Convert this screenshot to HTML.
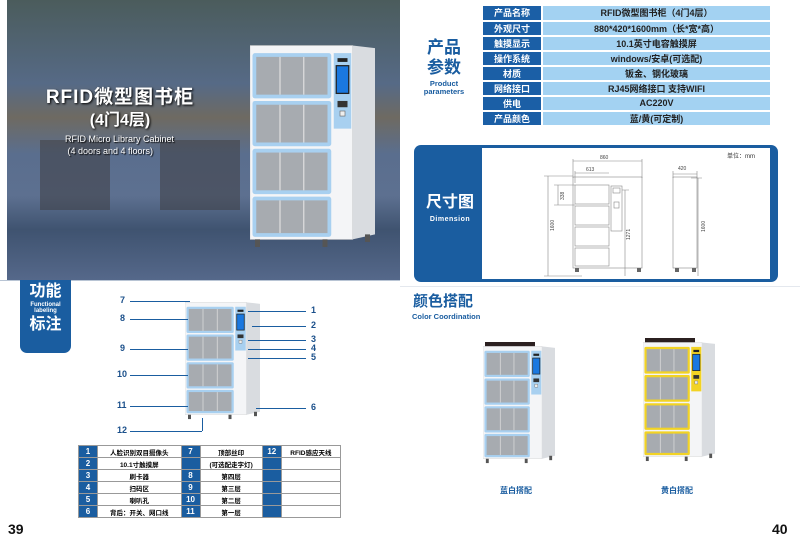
<!DOCTYPE html>
<html><head><meta charset="utf-8"><style>
*{margin:0;padding:0;box-sizing:border-box}
body{width:800px;height:528px;overflow:hidden;background:#fff;position:relative;font-family:"Liberation Sans","Noto Sans CJK SC",sans-serif}
.a{position:absolute}
.blue{color:#1a5da0}
table{border-collapse:collapse}
#pt td{height:14.7px;font-size:9px;text-align:center;border-bottom:2px solid #fff;padding:0}
#pt td.l{background:#1b5fa6;color:#fff;width:59px;font-weight:bold;border-right:2px solid #fff}
#pt td.v{background:#a3d2f2;color:#222;font-weight:bold}
#ft td{height:12px;font-size:6.5px;text-align:center;border:1px solid #999;padding:0;font-weight:bold}
#ft td.b{background:#1a5da0;color:#fff;font-size:8px;width:19px}
.num{position:absolute;font-size:9px;font-weight:bold;color:#1a4f8a}
.ln{position:absolute;height:1px;background:#1a5da0}
</style></head><body>
<svg width="0" height="0" style="position:absolute">
<defs>
<symbol id="cab" viewBox="0 0 100 170">
<rect x="0" y="6" width="82" height="154" fill="#f4f5f7" stroke="#ccc" stroke-width=".5"/>
<polygon points="82,6 100,8 100,156 82,160" fill="#d9dce0"/>
<g fill="currentColor">
<rect x="2" y="12" width="63" height="36" rx="2"/><rect x="2" y="50" width="63" height="36" rx="2"/>
<rect x="2" y="88" width="63" height="36" rx="2"/><rect x="2" y="126" width="63" height="32" rx="2"/>
<rect x="67" y="12" width="14" height="60"/></g>
<g fill="#a7abb0">
<rect x="5" y="15" width="57" height="30"/><rect x="5" y="53" width="57" height="30"/>
<rect x="5" y="91" width="57" height="30"/><rect x="5" y="129" width="57" height="26"/></g>
<g stroke="#ddd" stroke-width="1"><path d="M24 15V45M43 15V45M24 53V83M43 53V83M24 91V121M43 91V121M24 129V155M43 129V155"/></g>
<rect x="69" y="22" width="10" height="22" fill="#1a78e0" stroke="#222"/>
<rect x="70" y="16" width="8" height="3" fill="#222"/>
<rect x="70" y="50" width="8" height="5" fill="#333"/>
<rect x="72" y="58" width="4" height="4" fill="#eee" stroke="#666" stroke-width=".5"/>
<g fill="#555"><rect x="4" y="160" width="4" height="6"/><rect x="58" y="160" width="4" height="6"/><rect x="92" y="156" width="4" height="6"/></g>
</symbol>
</defs></svg>

<!-- photo -->
<div class="a" style="left:7px;top:0;width:393px;height:280px;background:linear-gradient(180deg,#4b5c5c 0%,#566a86 30%,#6e6a62 42%,#5a6e8e 55%,#5d7090 70%,#3f5370 82%,#55688a 100%)"></div>
<div class="a" style="left:40px;top:140px;width:70px;height:70px;background:#3b3a3c;opacity:.5"></div>
<div class="a" style="left:160px;top:140px;width:80px;height:70px;background:#3b3a3c;opacity:.5"></div>
<div class="a" style="left:20px;top:82px;width:200px;text-align:center;color:#fff;font-weight:bold;font-size:19px;letter-spacing:1px;text-shadow:1px 1px 2px #000">RFID微型图书柜</div>
<div class="a" style="left:20px;top:106px;width:200px;text-align:center;color:#fff;font-weight:bold;font-size:16px;text-shadow:1px 1px 2px #000">(4门4层)</div>
<div class="a" style="left:20px;top:133px;width:240px;text-align:left;padding-left:45px;color:#fff;font-size:9px;line-height:12px;text-shadow:1px 1px 1px #000">RFID Micro Library Cabinet<br>&nbsp;(4 doors and 4 floors)</div>
<svg class="a" style="left:250px;top:38px;color:#a8d0f0" width="125" height="214" viewBox="0 0 100 170" preserveAspectRatio="none"><use href="#cab"/></svg>

<!-- params -->
<div class="a blue" style="left:424px;top:38px;font-size:17px;font-weight:bold;line-height:20px;text-align:center;width:40px">产品<br>参数</div>
<div class="a blue" style="left:416px;top:80px;font-size:7.5px;font-weight:bold;line-height:8px;text-align:center;width:56px">Product<br>parameters</div>
<table id="pt" class="a" style="left:483px;top:6px;width:287px">
<tr><td class="l">产品名称</td><td class="v">RFID微型图书柜（4门4层）</td></tr>
<tr><td class="l">外观尺寸</td><td class="v">880*420*1600mm（长*宽*高）</td></tr>
<tr><td class="l">触摸显示</td><td class="v">10.1英寸电容触摸屏</td></tr>
<tr><td class="l">操作系统</td><td class="v">windows/安卓(可选配)</td></tr>
<tr><td class="l">材质</td><td class="v">钣金、钢化玻璃</td></tr>
<tr><td class="l">网络接口</td><td class="v">RJ45网络接口  支持WIFI</td></tr>
<tr><td class="l">供电</td><td class="v">AC220V</td></tr>
<tr><td class="l">产品颜色</td><td class="v">蓝/黄(可定制)</td></tr>
</table>

<!-- dimension -->
<div class="a" style="left:414px;top:145px;width:364px;height:137px;background:#1a5da0;border-radius:7px"></div>
<div class="a" style="left:482px;top:148px;width:288px;height:131px;background:#fff"></div>
<div class="a" style="left:418px;top:193px;width:64px;text-align:center;color:#fff;font-weight:bold;font-size:16px;line-height:20px">尺寸图</div>
<div class="a" style="left:418px;top:216px;width:64px;text-align:center;color:#fff;font-weight:bold;font-size:7px;letter-spacing:.5px">Dimension</div>
<div class="a" style="left:727px;top:151px;font-size:6px;color:#333">单位：mm</div>
<svg class="a" style="left:482px;top:148px" width="288" height="131" viewBox="0 0 288 131" fill="none" stroke="#888" stroke-width=".6">
<path d="M91 13H160M91 11V30M160 11V30M93 25H127M93 23V35"/>
<rect x="91" y="29" width="69" height="91"/>
<rect x="93" y="37" width="34" height="19"/><rect x="93" y="58" width="34" height="19"/><rect x="93" y="79" width="34" height="19"/><rect x="93" y="100" width="34" height="18"/>
<rect x="129" y="38" width="11" height="45"/><rect x="131" y="40" width="7" height="5"/><rect x="132" y="54" width="5" height="6"/>
<path d="M66 28V128M62 28H91M62 128H100M76 37V57M72 37H93M72 57H93M143 42V128M140 42H147"/>
<rect x="191" y="29" width="24" height="91"/><path d="M191 26H215M191 23V30M215 23V30M216 30V128M209 30H220"/>
<g stroke="none" fill="#444" font-size="5" font-family="Liberation Sans"><text x="118" y="11">860</text><text x="104" y="23">613</text><text x="196" y="22">420</text></g>
<g stroke="none" fill="#444" font-size="5" font-family="Liberation Sans"><text transform="translate(72,83) rotate(-90)">1600</text><text transform="translate(82,52) rotate(-90)">338</text><text transform="translate(148,92) rotate(-90)">1271</text><text transform="translate(223,84) rotate(-90)">1600</text></g>
<g fill="#666" stroke="none"><rect x="93" y="120" width="4" height="4"/><rect x="155" y="120" width="4" height="4"/><rect x="193" y="120" width="4" height="4"/><rect x="210" y="120" width="4" height="4"/></g>
</svg>

<!-- functional -->
<div class="a" style="left:0;top:280px;width:400px;height:1px;background:#b8c4d4"></div>
<div class="a" style="left:20px;top:280px;width:51px;height:73px;background:#1a5da0;border-radius:0 0 7px 7px;color:#fff;text-align:center">
<div style="font-size:16px;font-weight:bold;line-height:20px;margin-top:2px">功能</div>
<div style="font-size:6px;font-weight:bold;line-height:6px">Functional<br>labeling</div>
<div style="font-size:16px;font-weight:bold;line-height:22px">标注</div></div>
<svg class="a" style="left:185px;top:298px;color:#a8d0f0" width="75" height="124" viewBox="0 0 100 170" preserveAspectRatio="none"><use href="#cab"/></svg>
<div class="num" style="left:120px;top:295px">7</div><div class="ln" style="left:130px;top:301px;width:60px"></div>
<div class="num" style="left:120px;top:313px">8</div><div class="ln" style="left:130px;top:319px;width:58px"></div>
<div class="num" style="left:120px;top:343px">9</div><div class="ln" style="left:130px;top:349px;width:58px"></div>
<div class="num" style="left:117px;top:369px">10</div><div class="ln" style="left:130px;top:375px;width:58px"></div>
<div class="num" style="left:117px;top:400px">11</div><div class="ln" style="left:130px;top:406px;width:58px"></div>
<div class="num" style="left:117px;top:425px">12</div><div class="ln" style="left:130px;top:431px;width:72px"></div><div class="a" style="left:202px;top:418px;width:1px;height:13px;background:#1a5da0"></div>
<div class="num" style="left:311px;top:305px">1</div><div class="ln" style="left:248px;top:311px;width:58px"></div>
<div class="num" style="left:311px;top:320px">2</div><div class="ln" style="left:252px;top:326px;width:54px"></div>
<div class="num" style="left:311px;top:334px">3</div><div class="ln" style="left:248px;top:340px;width:58px"></div>
<div class="num" style="left:311px;top:343px">4</div><div class="ln" style="left:248px;top:349px;width:58px"></div>
<div class="num" style="left:311px;top:352px">5</div><div class="ln" style="left:248px;top:358px;width:58px"></div>
<div class="num" style="left:311px;top:402px">6</div><div class="ln" style="left:256px;top:408px;width:50px"></div>

<table id="ft" class="a" style="left:78px;top:445px;width:263px">
<tr><td class="b">1</td><td>人脸识别双目摄像头</td><td class="b">7</td><td>顶部丝印</td><td class="b">12</td><td>RFID感应天线</td></tr>
<tr><td class="b">2</td><td>10.1寸触摸屏</td><td class="b"></td><td>(可选配走字灯)</td><td class="b"></td><td></td></tr>
<tr><td class="b">3</td><td>刷卡器</td><td class="b">8</td><td>第四层</td><td class="b"></td><td></td></tr>
<tr><td class="b">4</td><td>扫码区</td><td class="b">9</td><td>第三层</td><td class="b"></td><td></td></tr>
<tr><td class="b">5</td><td>喇叭孔</td><td class="b">10</td><td>第二层</td><td class="b"></td><td></td></tr>
<tr><td class="b">6</td><td>背后：开关、网口线</td><td class="b">11</td><td>第一层</td><td class="b"></td><td></td></tr>
</table>

<!-- color -->
<div class="a" style="left:400px;top:286px;width:400px;height:1px;background:#e4e8ee"></div>
<div class="a blue" style="left:413px;top:290px;font-size:15px;font-weight:bold">颜色搭配</div>
<div class="a blue" style="left:412px;top:312px;font-size:7.5px;font-weight:bold">Color Coordination</div>
<div class="a" style="left:485px;top:342px;width:50px;height:6px;background:#2b2020"></div>
<svg class="a" style="left:483px;top:342px;color:#a8d0f0" width="72" height="124" viewBox="0 0 100 170" preserveAspectRatio="none"><use href="#cab"/></svg>
<div class="a" style="left:645px;top:338px;width:50px;height:6px;background:#2b2020"></div>
<svg class="a" style="left:643px;top:338px;color:#f2d324" width="72" height="126" viewBox="0 0 100 170" preserveAspectRatio="none"><use href="#cab"/></svg>
<div class="a blue" style="left:500px;top:485px;font-size:8px;font-weight:bold">蓝白搭配</div>
<div class="a blue" style="left:661px;top:485px;font-size:8px;font-weight:bold">黄白搭配</div>
<div class="a" style="left:8px;top:521px;font-size:14px;font-weight:bold;color:#111">39</div>
<div class="a" style="left:772px;top:521px;font-size:14px;font-weight:bold;color:#111">40</div>
</body></html>
